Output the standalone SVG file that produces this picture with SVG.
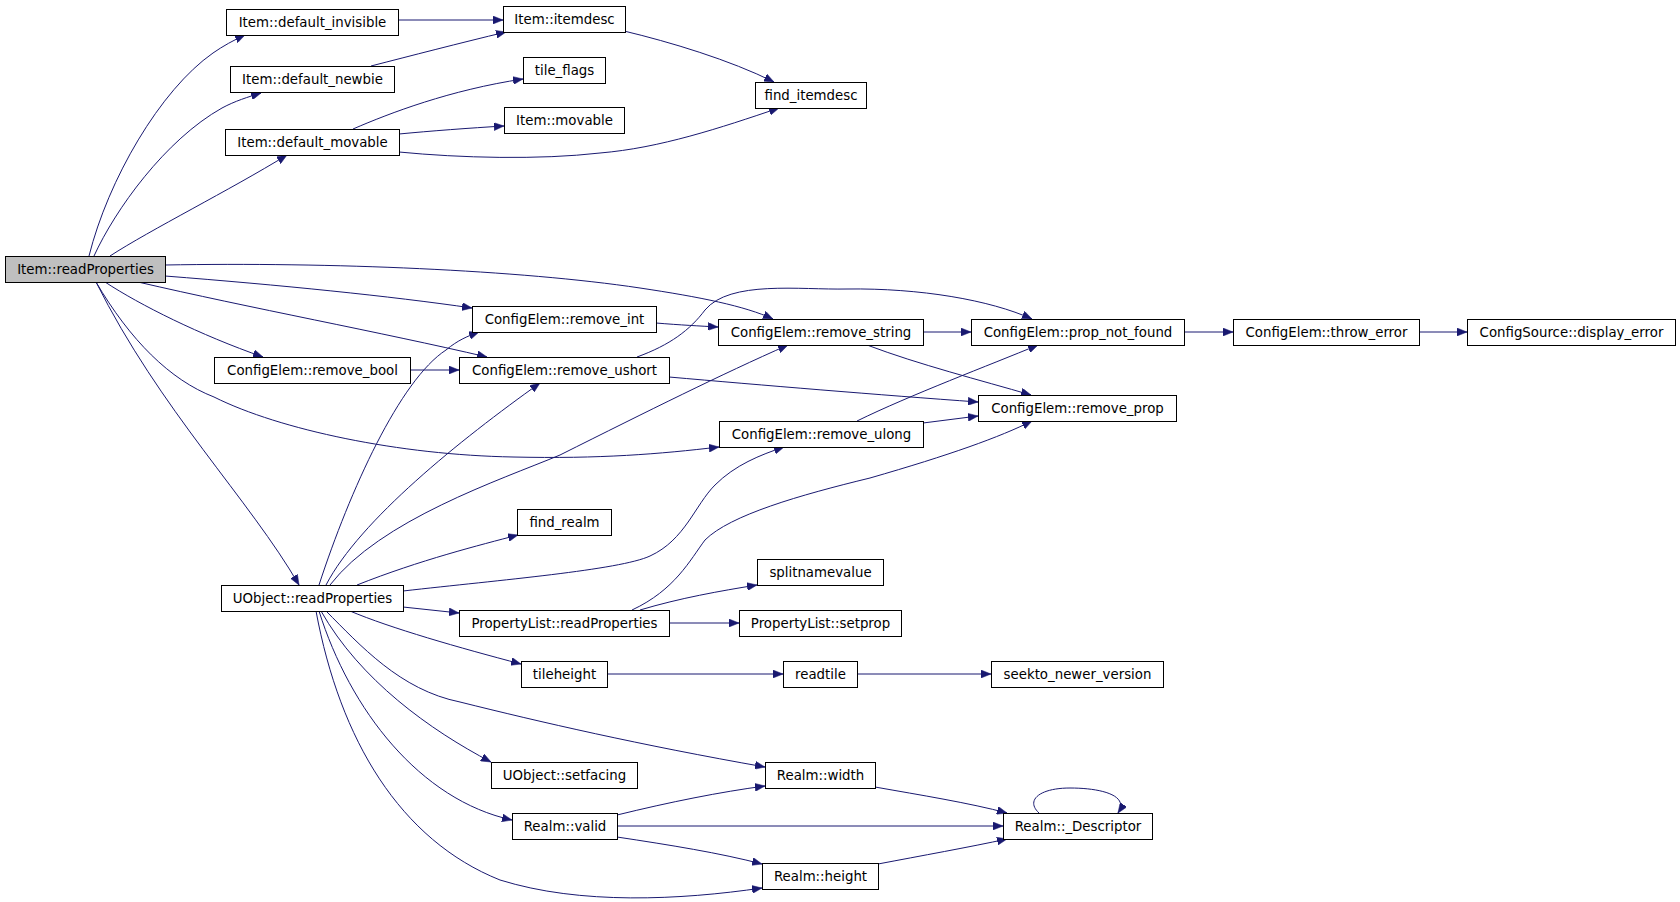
<svg xmlns="http://www.w3.org/2000/svg" width="1680" height="902" viewBox="0 0 1680 902">
<style>
.n rect{fill:#ffffff;stroke:#000000;stroke-width:1}
.n.root rect{fill:#bfbfbf}
.n text{font-family:"DejaVu Sans","Liberation Sans",sans-serif;font-size:13.33px;fill:#000000;text-anchor:middle}
.e path{fill:none;stroke:#191970;stroke-width:1;marker-end:url(#ah)}
</style>
<defs>
<marker id="ah" viewBox="0 0 10 8" refX="10" refY="4" markerWidth="10" markerHeight="8" markerUnits="userSpaceOnUse" orient="auto">
<path d="M0,0 L10,4 L0,8 z" fill="#191970" stroke="#191970" stroke-width="0.5"/>
</marker>
</defs>
<rect x="0" y="0" width="1680" height="902" fill="#ffffff"/>
<g id="connectors" class="e">
<path d="M89,256 C108,180 160,90 213,53 C223,46 234,40 245,35"/>
<path d="M94,256 C115,210 165,140 222,108 C235,101 248,97 261,93"/>
<path d="M110,256 C150,230 230,190 287,155"/>
<path d="M398,20 L503,20"/>
<path d="M371,66 C410,56 460,43 506,32"/>
<path d="M353,129 C390,113 450,90 523,79"/>
<path d="M399,134 C430,131 470,128 504,126"/>
<path d="M399,152 C460,158 540,160 600,153 C660,148 720,128 779,108"/>
<path d="M624,31 C670,42 730,60 774,82"/>
<path d="M165,265 C330,262 520,270 640,288 C700,297 745,306 773,319"/>
<path d="M165,276 C280,285 390,296 472,308"/>
<path d="M138,282 C250,308 380,332 487,357"/>
<path d="M105,282 C140,305 200,335 263,357"/>
<path d="M96,282 C130,340 170,380 214,397 C280,430 400,455 513,457 C600,459 660,454 719,447"/>
<path d="M96,282 C160,410 250,500 299,585"/>
<path d="M656,323 C680,325 700,326 718,327"/>
<path d="M410,370 L459,370"/>
<path d="M637,357 C670,345 690,330 705,310 C730,280 800,290 847,289 C920,288 990,300 1032,319"/>
<path d="M669,377 C760,385 880,395 978,402"/>
<path d="M923,332 L971,332"/>
<path d="M867,345 C920,365 980,380 1031,395"/>
<path d="M857,421 C910,395 990,365 1038,345"/>
<path d="M923,423 L978,416"/>
<path d="M1184,332 L1233,332"/>
<path d="M1419,332 L1467,332"/>
<path d="M319,585 C350,490 400,380 446,350 C458,340 468,336 479,332"/>
<path d="M326,585 C360,520 460,440 540,383"/>
<path d="M330,585 C380,520 500,480 560,455 C650,410 720,375 788,345"/>
<path d="M357,585 C420,560 480,545 518,535"/>
<path d="M403,591 C500,580 620,570 650,556 C685,540 695,505 715,485 C735,465 760,455 784,447"/>
<path d="M403,607 L459,613"/>
<path d="M350,611 C390,628 460,648 521,664"/>
<path d="M326,611 C360,645 400,690 460,702 C540,722 640,745 765,767"/>
<path d="M321,611 C360,680 430,730 491,762"/>
<path d="M319,611 C350,710 420,800 512,820"/>
<path d="M316,611 C340,740 400,840 500,880 C580,905 680,900 762,888"/>
<path d="M632,610 C675,590 690,560 705,540 C730,515 800,495 870,478 C950,455 1000,437 1032,421"/>
<path d="M640,610 C680,598 720,591 757,585"/>
<path d="M669,623 L739,623"/>
<path d="M607,674 L783,674"/>
<path d="M857,674 L991,674"/>
<path d="M617,815 C670,802 720,792 765,786"/>
<path d="M617,826 L1003,826"/>
<path d="M617,837 C670,845 720,853 762,864"/>
<path d="M875,787 C920,795 970,803 1007,813"/>
<path d="M878,864 C920,856 970,847 1007,839"/>
<path d="M1039,813 C1025,800 1040,788 1070,788 C1100,788 1130,795 1118,813"/>
</g>
<g id="n_root" class="n root"><rect x="5.5" y="256.5" width="160" height="26"/><text x="85.5" y="273.5">Item::readProperties</text></g>
<g id="n_default_invisible" class="n"><rect x="226.5" y="9.5" width="172" height="26"/><text x="312.5" y="26.5">Item::default_invisible</text></g>
<g id="n_itemdesc" class="n"><rect x="503.5" y="6.5" width="122" height="26"/><text x="564.5" y="23.5">Item::itemdesc</text></g>
<g id="n_default_newbie" class="n"><rect x="230.5" y="66.5" width="164" height="26"/><text x="312.5" y="83.5">Item::default_newbie</text></g>
<g id="n_tile_flags" class="n"><rect x="523.5" y="57.5" width="82" height="26"/><text x="564.5" y="74.5">tile_flags</text></g>
<g id="n_movable" class="n"><rect x="504.5" y="107.5" width="120" height="26"/><text x="564.5" y="124.5">Item::movable</text></g>
<g id="n_default_movable" class="n"><rect x="225.5" y="129.5" width="174" height="26"/><text x="312.5" y="146.5">Item::default_movable</text></g>
<g id="n_find_itemdesc" class="n"><rect x="755.5" y="82.5" width="111" height="26"/><text x="811" y="99.5">find_itemdesc</text></g>
<g id="n_remove_int" class="n"><rect x="472.5" y="306.5" width="184" height="26"/><text x="564.5" y="323.5">ConfigElem::remove_int</text></g>
<g id="n_remove_string" class="n"><rect x="718.5" y="319.5" width="205" height="26"/><text x="821" y="336.5">ConfigElem::remove_string</text></g>
<g id="n_prop_not_found" class="n"><rect x="971.5" y="319.5" width="213" height="26"/><text x="1078" y="336.5">ConfigElem::prop_not_found</text></g>
<g id="n_throw_error" class="n"><rect x="1233.5" y="319.5" width="186" height="26"/><text x="1326.5" y="336.5">ConfigElem::throw_error</text></g>
<g id="n_display_error" class="n"><rect x="1467.5" y="319.5" width="208" height="26"/><text x="1571.5" y="336.5">ConfigSource::display_error</text></g>
<g id="n_remove_bool" class="n"><rect x="214.5" y="357.5" width="196" height="26"/><text x="312.5" y="374.5">ConfigElem::remove_bool</text></g>
<g id="n_remove_ushort" class="n"><rect x="459.5" y="357.5" width="210" height="26"/><text x="564.5" y="374.5">ConfigElem::remove_ushort</text></g>
<g id="n_remove_prop" class="n"><rect x="978.5" y="395.5" width="198" height="26"/><text x="1077.5" y="412.5">ConfigElem::remove_prop</text></g>
<g id="n_remove_ulong" class="n"><rect x="719.5" y="421.5" width="204" height="26"/><text x="821.5" y="438.5">ConfigElem::remove_ulong</text></g>
<g id="n_find_realm" class="n"><rect x="517.5" y="509.5" width="94" height="26"/><text x="564.5" y="526.5">find_realm</text></g>
<g id="n_splitnamevalue" class="n"><rect x="757.5" y="559.5" width="126" height="26"/><text x="820.5" y="576.5">splitnamevalue</text></g>
<g id="n_uobject_readProperties" class="n"><rect x="221.5" y="585.5" width="182" height="26"/><text x="312.5" y="602.5">UObject::readProperties</text></g>
<g id="n_pl_readProperties" class="n"><rect x="459.5" y="610.5" width="210" height="26"/><text x="564.5" y="627.5">PropertyList::readProperties</text></g>
<g id="n_setprop" class="n"><rect x="739.5" y="610.5" width="162" height="26"/><text x="820.5" y="627.5">PropertyList::setprop</text></g>
<g id="n_tileheight" class="n"><rect x="521.5" y="661.5" width="86" height="26"/><text x="564.5" y="678.5">tileheight</text></g>
<g id="n_readtile" class="n"><rect x="783.5" y="661.5" width="74" height="26"/><text x="820.5" y="678.5">readtile</text></g>
<g id="n_seekto" class="n"><rect x="991.5" y="661.5" width="172" height="26"/><text x="1077.5" y="678.5">seekto_newer_version</text></g>
<g id="n_width" class="n"><rect x="765.5" y="762.5" width="110" height="26"/><text x="820.5" y="779.5">Realm::width</text></g>
<g id="n_setfacing" class="n"><rect x="491.5" y="762.5" width="146" height="26"/><text x="564.5" y="779.5">UObject::setfacing</text></g>
<g id="n_valid" class="n"><rect x="512.5" y="813.5" width="105" height="26"/><text x="565" y="830.5">Realm::valid</text></g>
<g id="n_descriptor" class="n"><rect x="1003.5" y="813.5" width="149" height="26"/><text x="1078" y="830.5">Realm::_Descriptor</text></g>
<g id="n_height" class="n"><rect x="762.5" y="863.5" width="116" height="26"/><text x="820.5" y="880.5">Realm::height</text></g>
</svg>
